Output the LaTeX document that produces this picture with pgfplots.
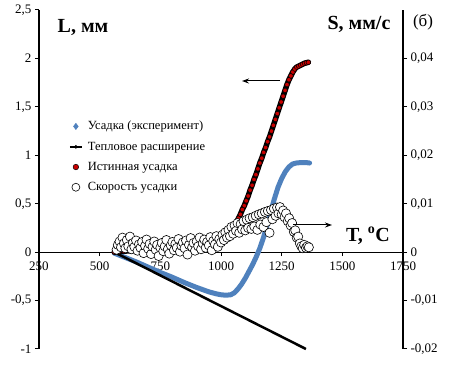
\documentclass[border=0pt]{standalone}
\usepackage{fontspec}
\setmainfont{Liberation Serif}
\usepackage{pgfplots}
\pgfplotsset{compat=1.18}
\usetikzlibrary{arrows.meta}
\definecolor{expblue}{RGB}{79,129,189}
\definecolor{truered}{RGB}{200,0,0}

\pgfplotstableread{
T L
560 -0.01
600 -0.05
650 -0.10
700 -0.155
750 -0.21
800 -0.26
850 -0.315
900 -0.365
950 -0.41
980 -0.43
1000 -0.44
1020 -0.445
1040 -0.44
1055 -0.42
1070 -0.38
1085 -0.33
1100 -0.27
1115 -0.20
1130 -0.13
1145 -0.05
1160 0.04
1175 0.15
1190 0.28
1205 0.42
1220 0.55
1235 0.67
1250 0.76
1265 0.83
1280 0.88
1295 0.91
1310 0.92
1330 0.925
1350 0.925
1365 0.92
}\expdata

\pgfplotstableread{
T L
560 0.00
580 0.005
600 0.01
630 0.015
660 0.02
700 0.025
740 0.03
780 0.04
820 0.05
860 0.06
900 0.075
940 0.09
970 0.10
1000 0.12
1008 0.13
1016 0.15
1024 0.17
1032 0.19
1040 0.21
1048 0.24
1056 0.27
1064 0.31
1072 0.35
1080 0.39
1088 0.44
1096 0.48
1104 0.53
1112 0.58
1120 0.64
1128 0.69
1136 0.75
1144 0.80
1152 0.86
1160 0.92
1168 0.97
1176 1.03
1184 1.08
1192 1.14
1200 1.19
1208 1.25
1216 1.31
1224 1.37
1232 1.43
1240 1.49
1248 1.55
1256 1.61
1264 1.67
1272 1.73
1280 1.78
1288 1.82
1296 1.86
1304 1.89
1312 1.91
1320 1.92
1328 1.93
1336 1.94
1344 1.95
1352 1.955
1360 1.96
}\truedata

\pgfplotstableread{
T S
570 0.0005
575 0.0015
582 0.0022
588 0.0010
594 0.0030
600 0.0018
606 0.0008
612 0.0025
618 0.0012
625 0.0032
631 0.0006
637 0.0019
643 0.0011
650 0.0024
656 0.0003
662 0.0016
668 0.0009
675 0.0021
681 -0.0002
687 0.0013
693 0.0026
700 0.0007
706 0.0017
712 -0.0004
718 0.0011
725 0.0022
731 0.0005
737 0.0015
743 -0.0008
750 0.0009
756 0.0019
762 0.0002
768 0.0012
775 0.0025
781 0.0006
787 -0.0003
793 0.0014
800 0.0021
806 0.0004
812 0.0017
818 0.0009
825 0.0027
831 0.0001
837 0.0013
843 0.0020
850 0.0008
856 0.0024
862 -0.0005
868 0.0015
875 0.0029
881 0.0010
887 0.0019
893 0.0003
900 0.0022
906 0.0012
912 0.0030
918 0.0006
925 0.0018
931 0.0026
937 0.0009
943 0.0021
950 0.0014
956 0.0031
962 0.0004
968 0.0023
975 0.0016
981 0.0033
987 0.0011
993 0.0027
1000 0.0020
1006 0.0036
1012 0.0025
1018 0.0041
1025 0.0030
1031 0.0046
1037 0.0033
1043 0.0052
1050 0.0038
1056 0.0055
1062 0.0044
1068 0.0060
1075 0.0040
1081 0.0058
1087 0.0047
1093 0.0064
1100 0.0045
1106 0.0067
1112 0.0050
1118 0.0070
1125 0.0048
1131 0.0072
1137 0.0053
1143 0.0075
1150 0.0046
1156 0.0078
1162 0.0057
1168 0.0080
1175 0.0052
1181 0.0083
1187 0.0062
1193 0.0085
1200 0.0040
1206 0.0087
1212 0.0068
1218 0.0090
1225 0.0075
1231 0.0092
1237 0.0080
1243 0.0093
1250 0.0078
1256 0.0086
1262 0.0072
1268 0.0080
1275 0.0064
1281 0.0070
1287 0.0055
1293 0.0060
1300 0.0042
1306 0.0045
1312 0.0030
1318 0.0032
1325 0.0018
1331 0.0012
1337 0.0008
1343 0.0015
1350 0.0009
1356 0.0012
1362 0.0010
}\ratedata

\begin{document}
\begin{tikzpicture}
\path[use as bounding box] (-39pt,-30pt) rectangle (411pt,349pt);
\begin{axis}[
  at={(0pt,0pt)}, anchor=south west,
  scale only axis, width=364pt, height=339pt,
  xmin=250, xmax=1750, ymin=-1, ymax=2.5,
  axis x line*=middle, axis y line*=left,
  hide obscured x ticks=false,
  xtick={250,500,750,1000,1250,1500,1750},
  ytick={-1,-0.5,0,0.5,1,1.5,2,2.5},
  tick align=outside, major tick length=4pt,
  axis line style={line width=1.2pt, black},
  tick style={line width=1pt, black},
  ticklabel style={font=\fontsize{13}{15}\selectfont},
  xticklabel style={yshift=-2pt},
  /pgf/number format/use comma,
  /pgf/number format/1000 sep={},
  /pgf/number format/assume math mode=true,
  scaled ticks=false,
  clip=false,
]
\addplot[expblue, line width=5pt, line cap=round, line join=round] table[x=T,y=L] {\expdata};
\addplot[black, line width=2.5pt] coordinates {(560,0) (1350,-1)};
\addplot[black, line width=5.5pt, line cap=round, line join=round] table[x=T,y=L] {\truedata};
\addplot[only marks, mark=*, mark size=2.3pt, mark options={draw=black, fill=truered, line width=0.5pt}] table[x=T,y=L] {\truedata};
\end{axis}
\begin{axis}[
  at={(0pt,0pt)}, anchor=south west,
  scale only axis, width=364pt, height=339pt,
  xmin=250, xmax=1750, ymin=-0.02, ymax=0.05,
  axis x line=none, axis y line*=right,
  ytick={-0.02,-0.01,0,0.01,0.02,0.03,0.04},
  tick align=outside, major tick length=4pt,
  axis line style={line width=1.2pt, black},
  tick style={line width=1pt, black},
  ticklabel style={font=\fontsize{13}{15}\selectfont},
  yticklabel style={/pgf/number format/.cd, fixed, precision=2, use comma, assume math mode=true},
  scaled y ticks=false,
  clip=false,
  legend style={at={(0.074,0.684)}, anchor=north west, draw=none, fill=none,
    font=\fontsize{12.5}{14}\selectfont, row sep=6.5pt},
  legend cell align=left,
]
\addlegendimage{legend image code/.code={\path[draw=none,fill=none] (0pt,0pt) -- (16pt,0pt); \fill[expblue] plot[mark=diamond*, mark size=3.2pt] coordinates {(6pt,0pt)};}}
\addlegendimage{legend image code/.code={\path[draw=none,fill=none] (0pt,0pt) -- (16pt,0pt); \draw[black, line width=1.5pt] (0pt,0pt) -- (12pt,0pt); \fill[black] (6pt,0pt) circle (1.6pt);}}
\addlegendimage{legend image code/.code={\path[draw=none,fill=none] (0pt,0pt) -- (16pt,0pt); \draw[black, fill=truered, line width=0.5pt] (6pt,0pt) circle (2.8pt);}}
\addlegendimage{legend image code/.code={\path[draw=none,fill=none] (0pt,0pt) -- (16pt,0pt); \draw[black, fill=white, line width=0.6pt] (6pt,0pt) circle (4pt);}}
\addplot[forget plot, only marks, mark=*, mark size=4.6pt, mark options={draw=black, fill=white, line width=0.6pt}] table[x=T,y=S] {\ratedata};
\legend{Усадка (эксперимент), Тепловое расширение, Истинная усадка, Скорость усадки}
\end{axis}
\node[font=\bfseries\fontsize{20}{22}\selectfont] at (44pt,321pt) {L, мм};
\node[font=\bfseries\fontsize{20}{22}\selectfont] at (320pt,325pt) {S, мм/с};
\node[font=\fontsize{17}{19}\selectfont] at (384pt,327pt) {(б)};
\node[font=\bfseries\fontsize{20}{22}\selectfont] at (329pt,113pt) {T, \textsuperscript{o}C};
\draw[line width=1pt, -{Stealth[length=7pt,width=5pt]}] (241pt,268pt) -- (203pt,268pt);
\draw[line width=1pt, -{Stealth[length=7pt,width=5pt]}] (254pt,124pt) -- (293pt,124pt);
\end{tikzpicture}
\end{document}
